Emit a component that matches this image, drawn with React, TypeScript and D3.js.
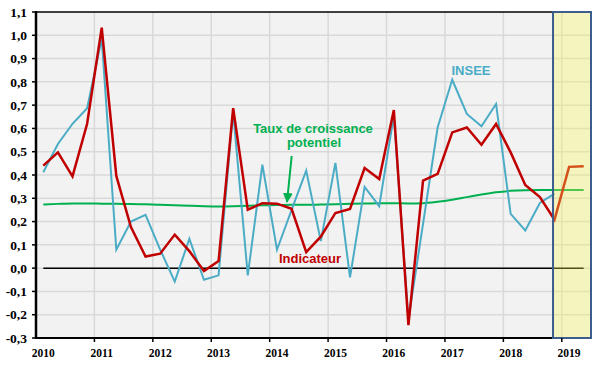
import React from 'react'
import * as d3 from 'd3'

// quarterly values, 2010 Q1 ...
const startYear = 2010
const indicateur = [
  0.44, 0.497, 0.394, 0.62,
  1.033, 0.396, 0.176, 0.05,
  0.062, 0.144, 0.073, -0.012,
  0.03, 0.687, 0.251, 0.279,
  0.277, 0.255, 0.069, 0.135,
  0.237, 0.254, 0.43, 0.383,
  0.679, -0.245, 0.376, 0.405,
  0.583, 0.604, 0.53, 0.619,
  0.497, 0.357, 0.305, 0.208,
  0.435, 0.438,
]
const insee = [
  0.412, 0.533, 0.62, 0.687,
  0.985, 0.079, 0.2, 0.229,
  0.08, -0.058, 0.126, -0.05,
  -0.031, 0.67, -0.031, 0.444,
  0.079, 0.25, 0.419, 0.116,
  0.452, -0.04, 0.349, 0.266,
  0.655, -0.22, 0.19, 0.604,
  0.809, 0.662, 0.609, 0.705,
  0.233, 0.162, 0.28, 0.32,
]
const potentiel = [
  0.273, 0.276, 0.278, 0.278,
  0.277, 0.276, 0.275, 0.274,
  0.272, 0.27, 0.268, 0.266,
  0.265, 0.266, 0.268, 0.27,
  0.271, 0.272, 0.272, 0.273,
  0.274, 0.276, 0.278, 0.279,
  0.279, 0.278, 0.279, 0.285,
  0.294, 0.305, 0.316, 0.326,
  0.332, 0.335, 0.336, 0.336,
  0.336, 0.336,
]
const years = [2010, 2011, 2012, 2013, 2014, 2015, 2016, 2017, 2018, 2019]
const yTicks = [-0.3, -0.2, -0.1, 0, 0.1, 0.2, 0.3, 0.4, 0.5, 0.6, 0.7, 0.8, 0.9, 1.0, 1.1]
const forecastStart = 2018.85

const W = 600
const H = 371
const left = 36
const right = 591
const top = 12
const bottom = 338

const x = d3.scaleLinear().domain([2010, 2019.5]).range([left, right])
const y = d3.scaleLinear().domain([-0.3, 1.1]).range([bottom, top])
const qx = (i: number) => x(startYear + (i + 0.5) / 4)

const line = d3
  .line<number>()
  .x((d, i) => qx(i))
  .y((d) => y(d))
const smooth = d3
  .line<number>()
  .x((d, i) => qx(i))
  .y((d) => y(d))
  .curve(d3.curveMonotoneX)

const fmt = (v: number) => d3.format('.1f')(v).replace('.', ',').replace('−', '-')

const App = () => {
  const serif = '"Liberation Serif", "Times New Roman", serif'
  const sans = '"Liberation Sans", Arial, sans-serif'
  return (
    <svg width={W} height={H} style={{ position: 'absolute', left: 0, top: 0, background: '#fff' }}>
      <defs>
        <marker id="arr" viewBox="0 0 10 10" refX="9" refY="5" markerWidth="5" markerHeight="6" orient="auto">
          <path d="M0,0 L10,5 L0,10 z" fill="#00B050" />
        </marker>
      </defs>
      <rect x={left} y={top} width={right - left} height={bottom - top} fill="#F2F2F2" />
      {yTicks.slice(1, -1).map((t) => (
        <line key={'h' + t} x1={left} x2={right} y1={y(t)} y2={y(t)} stroke="#D9D9D9" strokeWidth={1.5} />
      ))}
      {years.slice(1).map((yr) => (
        <line key={'v' + yr} x1={x(yr)} x2={x(yr)} y1={top} y2={bottom} stroke="#D9D9D9" strokeWidth={1.5} />
      ))}
      <line x1={qx(0)} x2={qx(indicateur.length - 1)} y1={y(0)} y2={y(0)} stroke="#000" strokeWidth={1.5} />

      <path d={smooth(potentiel) || ''} fill="none" stroke="#00B050" strokeWidth={2} />
      <path d={line(insee) || ''} fill="none" stroke="#4BACC6" strokeWidth={2} />
      <path d={line(indicateur) || ''} fill="none" stroke="#C00000" strokeWidth={2.5} strokeLinejoin="miter" />

      <rect
        x={x(forecastStart)}
        y={top}
        width={right - x(forecastStart)}
        height={bottom - top}
        fill="#FFFA51"
        fillOpacity={0.32}
      />

      {/* frame */}
      <line x1={left} x2={x(forecastStart)} y1={top} y2={top} stroke="#000" strokeWidth={1.5} />
      <line x1={left} x2={left} y1={top - 1} y2={bottom + 1} stroke="#000" strokeWidth={2.5} />
      <line x1={left} x2={x(forecastStart)} y1={bottom} y2={bottom} stroke="#000" strokeWidth={2} />
      <rect
        x={x(forecastStart)}
        y={top}
        width={right - x(forecastStart)}
        height={bottom - top}
        fill="none"
        stroke="#3B5E8C"
        strokeWidth={2}
      />

      {yTicks.map((t) => (
        <g key={'yt' + t}>
          <line x1={left - 4} x2={left} y1={y(t)} y2={y(t)} stroke="#000" strokeWidth={1.5} />
          <text
            x={27}
            y={y(t)}
            dy="0.35em"
            textAnchor="end"
            fontFamily={serif}
            fontWeight="bold"
            fontSize={13.5}
            fill="#000"
          >
            {fmt(t)}
          </text>
        </g>
      ))}
      {years.map((yr) => (
        <g key={'xt' + yr}>
          {yr > 2010 && (
            <line x1={x(yr)} x2={x(yr)} y1={bottom} y2={bottom + 4} stroke="#000" strokeWidth={1.5} />
          )}
          <text
            x={x(yr + 0.125)}
            y={357}
            textAnchor="middle"
            fontFamily={serif}
            fontWeight="bold"
            fontSize={11.5}
            fill="#000"
          >
            {yr}
          </text>
        </g>
      ))}

      <text x={471} y={75} textAnchor="middle" fontFamily={sans} fontWeight="bold" fontSize={13} fill="#4BACC6">
        INSEE
      </text>
      <text x={313} y={133} textAnchor="middle" fontFamily={sans} fontWeight="bold" fontSize={13} fill="#00B050">
        Taux de croissance
      </text>
      <text x={314} y={146.5} textAnchor="middle" fontFamily={sans} fontWeight="bold" fontSize={13} fill="#00B050">
        potentiel
      </text>
      <line x1={291.7} y1={156} x2={287} y2={202} stroke="#00B050" strokeWidth={2} markerEnd="url(#arr)" />
      <text x={310} y={263} textAnchor="middle" fontFamily={sans} fontWeight="bold" fontSize={13} fill="#C00000">
        Indicateur
      </text>
    </svg>
  )
}

export default App
